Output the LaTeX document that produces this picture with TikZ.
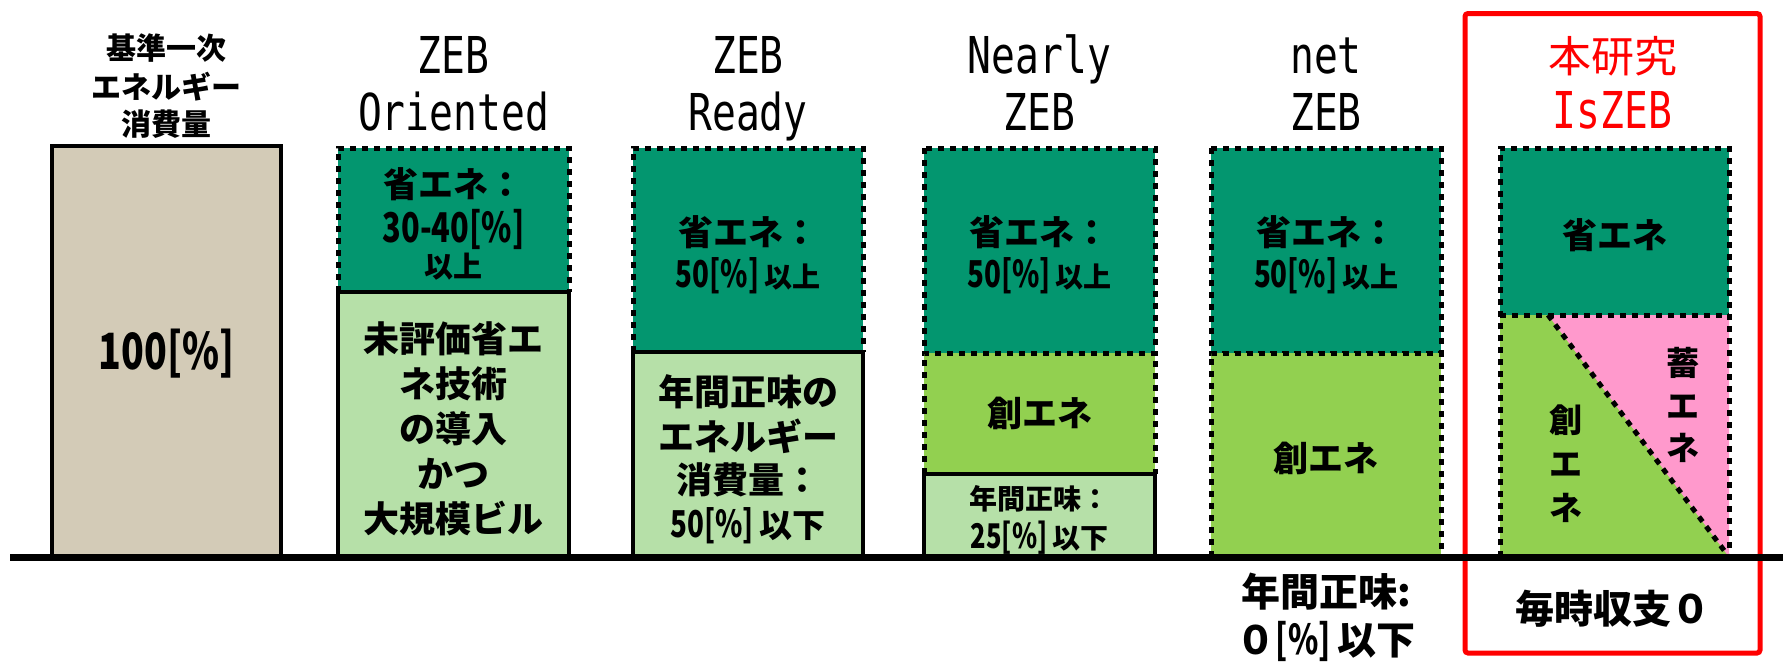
\documentclass[tikz,border=0pt]{standalone}
\usepackage{fontspec}
\setmainfont{Noto Sans CJK JP}
\newfontfamily\nar{Noto Sans CJK JP}[FakeStretch=0.75]
\newfontfamily\ttl{DejaVu Sans Mono}[FakeStretch=0.78]
\newcommand\fsz[1]{\fontsize{#1}{#1}\selectfont}
\definecolor{tanc}{HTML}{D3CBB7}
\definecolor{dkg}{HTML}{03966F}
\definecolor{ltg}{HTML}{B6E0A8}
\definecolor{mdg}{HTML}{92D050}
\definecolor{pnk}{HTML}{FF99CC}
\definecolor{redc}{HTML}{FF0000}
\tikzset{
  ttlfont/.style={font={\ttl\fsz{25.4}}, anchor=base, inner sep=0pt},
  jbt/.style={font={\bfseries\fsz{#1}}, inner sep=0pt, align=center},
  jbt/.default=18,
  dotb/.style={draw=black, line width=2.5pt, dash pattern=on 3pt off 3pt},
  solb/.style={draw=black, line width=2.2pt},
}
\begin{document}
\begin{tikzpicture}[x=0.5pt,y=-0.5pt]
\useasboundingbox (0,0) rectangle (1783,661);
% red frame
\draw[redc, line width=2.5pt, rounded corners=1.5pt] (1465,13.5) rectangle (1760,653);

% column 1
\filldraw[fill=tanc, solb] (52,146) rectangle (281,557);
\node[jbt=15] (t1a) at (166.5,48) {基準一次};
\node[jbt=15] (t1b) at (166.5,87) {エネルギー};
\node[jbt=15] (t1c) at (166.5,124) {消費量};
\node[jbt, font={\bfseries\nar\fsz{25}}] (b1) at (166.5,354) {100[\%]};

% column 2
\fill[dkg] (338,148) rectangle (569,292);
\draw[dotb] (338,292) -- (338,148) -- (569,148) -- (569,292);
\filldraw[fill=ltg, solb] (338,557) -- (338,292) -- (569,292) -- (569,557);
\node[ttlfont] (t2a) at (453.5,73) {ZEB};
\node[ttlfont] (t2b) at (453.5,130) {Oriented};
\node[jbt=17.5] (c2a) at (453.5,184) {省エネ：};
\node[jbt, font={\bfseries\nar\fsz{20.5}}] (c2b) at (453.5,229) {30-40[\%]};
\node[jbt=14.5] (c2c) at (453.5,267) {以上};
\node[jbt, font={\bfseries\fontsize{18}{22.5}\selectfont}] (d2) at (453.5,429)
  {未評価省エ\\ネ技術\\の導入\\かつ\\大規模ビル};

% column 3
\fill[dkg] (633,148) rectangle (863,352);
\draw[dotb] (633,352) -- (633,148) -- (863,148) -- (863,352);
\filldraw[fill=ltg, solb] (633,557) -- (633,352) -- (863,352) -- (863,557);
\node[ttlfont] (t3a) at (748,73) {ZEB};
\node[ttlfont] (t3b) at (748,130) {Ready};
\node[jbt=17.5] (c3a) at (748,232) {省エネ：};
\node[jbt=14] (c3b) at (748,276) {{\nar\fsz{18.5}50[\%]}\,以上};
\node[jbt=18] (d3a) at (748,392) {年間正味の};
\node[jbt=18] (d3b) at (748,436) {エネルギー};
\node[jbt=18] (d3c) at (748,480) {消費量：};
\node[jbt=16.5] (d3d) at (748,526) {{\nar\fsz{18.5}50[\%]}\,以下};

% column 4
\fill[dkg] (924,148) rectangle (1155,353);
\draw[dotb] (924,148) rectangle (1155,353);
\fill[mdg] (924,353) rectangle (1155,474);
\draw[dotb] (924,474) -- (924,353) -- (1155,353) -- (1155,474);
\filldraw[fill=ltg, solb] (924,557) -- (924,474) -- (1155,474) -- (1155,557);
\node[ttlfont] (t4a) at (1039.5,73) {Nearly};
\node[ttlfont] (t4b) at (1039.5,130) {ZEB};
\node[jbt=17.5] (c4a) at (1039.5,232) {省エネ：};
\node[jbt=14] (c4b) at (1039.5,276) {{\nar\fsz{18.5}50[\%]}\,以上};
\node[jbt=17.5] (e4) at (1039.5,413) {創エネ};
\node[jbt=14] (f4a) at (1039.5,499) {年間正味：};
\node[jbt=14] (f4b) at (1039.5,538) {{\nar\fsz{17}25[\%]}\,以下};

% column 5
\fill[dkg] (1211,148) rectangle (1441,353);
\draw[dotb] (1211,148) rectangle (1441,353);
\fill[mdg] (1211,353) rectangle (1441,557);
\draw[dotb] (1211,557) -- (1211,353) -- (1441,353) -- (1441,557);
\node[ttlfont] (t5a) at (1326,73) {net};
\node[ttlfont] (t5b) at (1326,130) {ZEB};
\node[jbt=17.5] (c5a) at (1326,232) {省エネ：};
\node[jbt=14] (c5b) at (1326,276) {{\nar\fsz{18.5}50[\%]}\,以上};
\node[jbt=17.5] (e5) at (1326,458) {創エネ};

% column 6
\fill[dkg] (1500,148) rectangle (1729,315);
\fill[mdg] (1500,315) rectangle (1729,557);
\fill[pnk] (1548,315) -- (1729,315) -- (1729,557) -- cycle;
\draw[dotb] (1500,557) -- (1500,148) -- (1729,148) -- (1729,557);
\draw[dotb] (1500,315) -- (1729,315);
\draw[dotb] (1548,315) -- (1729,557);
\node[font={\fsz{21.5}}, text=redc, inner sep=0pt] (t6a) at (1612.5,56) {本研究};
\node[ttlfont, text=redc] (t6b) at (1612.5,128) {IsZEB};
\node[jbt=17.5] (c6) at (1614.5,235) {省エネ};
\node[jbt, font={\bfseries\fontsize{16.5}{21.3}\selectfont}] (v6a) at (1683,405) {蓄\\エ\\ネ};
\node[jbt, font={\bfseries\fontsize{16.5}{22}\selectfont}] (v6b) at (1566,464) {創\\エ\\ネ};

% ground line
\draw[line width=3.5pt] (10,557) -- (1783,557);

% bottom labels
\node[jbt=19.5] (g5a) at (1326,592) {年間正味:};
\node[jbt=19.5] (g5b) at (1326,641) {０{\nar\fsz{20.5}[\%]}\,以下};
\node[jbt=19.5] (h6) at (1613,609) {毎時収支０};
\end{tikzpicture}
\end{document}
